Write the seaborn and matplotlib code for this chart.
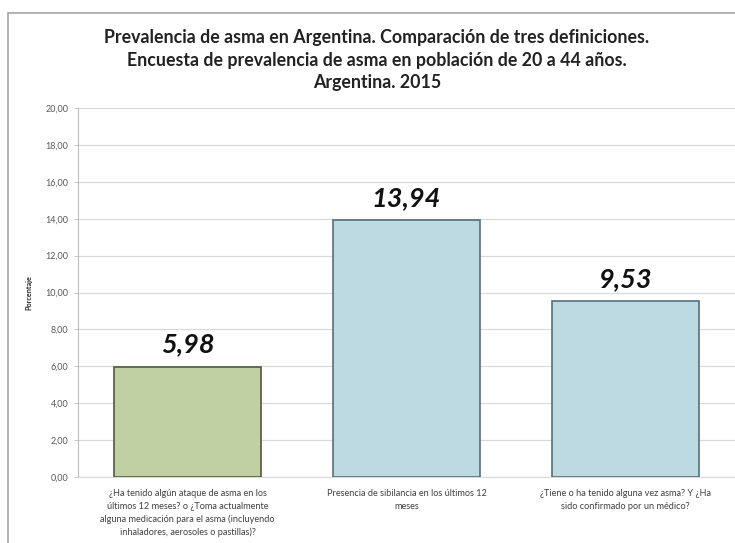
import matplotlib
matplotlib.use("Agg")
import matplotlib.pyplot as plt
import matplotlib.lines as mlines
import seaborn as sns

categorias = [
    "¿Ha tenido algún ataque de asma en los\núltimos 12 meses? o ¿Toma actualmente\nalguna medicación para el asma (incluyendo\ninhaladores, aerosoles o pastillas)?",
    "Presencia de sibilancia en los últimos 12\nmeses",
    "¿Tiene o ha tenido alguna vez asma? Y ¿Ha\nsido confirmado por un médico?",
]
valores = [5.98, 13.94, 9.53]
colores = ["#c4d79b", "#b7dde8", "#b7dde8"]
bordes = ["#4f5a3c", "#56707a", "#56707a"]
ticks_y = [0, 2, 4, 6, 8, 10, 12, 14, 16, 18, 20]

titulo = ("Prevalencia de asma en Argentina. Comparación de tres definiciones.\n"
          "Encuesta de prevalencia de asma en población de 20 a 44 años.\n"
          "Argentina. 2015")

sns.set_style("white")
plt.rcParams["font.family"] = ["Lato", "DejaVu Sans"]

fig = plt.figure(figsize=(7.35, 5.43), dpi=100)
ax = fig.add_axes([78 / 735, 1 - 477 / 543, 1 - 78 / 735, (477 - 108) / 543])

sns.barplot(x=categorias, y=valores, hue=categorias, palette=colores,
            width=0.667, legend=False, ax=ax, zorder=3)
for p, c in zip(ax.patches, bordes):
    p.set_edgecolor(c)
    p.set_linewidth(1.2)

for i, v in enumerate(valores):
    ax.text(i, v + 0.55, f"{v:.2f}".replace(".", ","), ha="center", va="bottom",
            fontsize=19.5, fontweight="bold", fontstyle="italic", color="#111111")

ax.set_ylim(0, 20)
ax.set_xlim(-0.5, 2.5)
ax.set_yticks(ticks_y)
ax.set_yticklabels([f"{t:.2f}".replace(".", ",") for t in ticks_y],
                   fontsize=6.5, color="#595959")
ax.set_xticks(range(len(categorias)))
ax.set_xticklabels(categorias, fontsize=6.6, color="#404040", linespacing=1.45)
ax.tick_params(axis="x", length=0, pad=9)
ax.tick_params(axis="y", length=3, width=0.6, color="#bfbfbf", left=True, pad=4)
ax.grid(axis="y", color="#d9d9d9", linewidth=0.9, zorder=0)
for s in ["top", "right"]:
    ax.spines[s].set_visible(False)
ax.spines["left"].set_color("#bfbfbf")
ax.spines["bottom"].set_color("#d9d9d9")
ax.set_ylabel("Porcentaje", fontsize=5.2, fontweight="bold", labelpad=9)

fig.text(0.513, 1 - 29 / 543, titulo, ha="center", va="top", fontsize=12.8,
         fontweight="bold", color="#222222", linespacing=1.4)

# marco del gráfico (borde izquierdo y superior)
fig.add_artist(mlines.Line2D([8 / 735, 8 / 735], [0, 1 - 13 / 543],
                             transform=fig.transFigure, color="#a6a6a6", lw=1.2))
fig.add_artist(mlines.Line2D([8 / 735, 1], [1 - 13 / 543, 1 - 13 / 543],
                             transform=fig.transFigure, color="#a6a6a6", lw=1.2))

fig.savefig("out.png", dpi=100)
